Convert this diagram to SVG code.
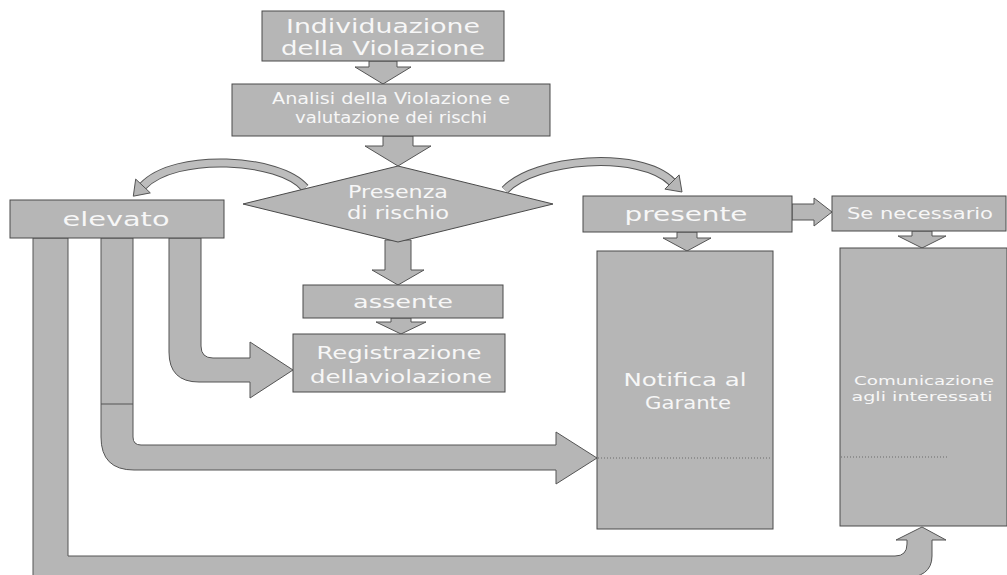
<svg xmlns="http://www.w3.org/2000/svg" width="1007" height="575" viewBox="0 0 1007 575">
<style>
.b{fill:#b6b6b6;stroke:#4a4a4a;stroke-width:1}
.a{fill:#b6b6b6;stroke:#555;stroke-width:1}
.t{fill:#f7f7f7;font-family:"DejaVu Sans",sans-serif;text-anchor:middle}
.arcO{fill:none;stroke:#555;stroke-width:9;stroke-linecap:butt}
.arcI{fill:none;stroke:#bdbdbd;stroke-width:7;stroke-linecap:butt}
.dot{stroke:#6a6a6a;stroke-width:1;stroke-dasharray:1 2}
</style>
<rect width="1007" height="575" fill="#ffffff"/>
<g id="connectors">
  <path class="a" d="M369,61 H397 V67 H411 L383,84 L355,67 H369 Z"/>
  <path class="a" d="M383,136 H413 V146 H431 L398,166 L365,146 H383 Z"/>
  <path class="a" d="M385,240 H411 V270 H424 L398,285 L372,270 H385 Z"/>
  <path class="a" d="M391,318 H411 V322 H426 L401,334 L376,322 H391 Z"/>
  <path class="arcO" d="M305,188 C280,158 175,152 143,186"/>
  <path class="arcI" d="M305,188 C280,158 175,152 143,186"/>
  <path class="a" d="M150.3,192.9 L133.3,196.2 L135.7,179.1 Z"/>
  <path class="arcO" d="M505,190 C535,158 640,150 672,182"/>
  <path class="arcI" d="M505,190 C535,158 640,150 672,182"/>
  <path class="a" d="M679.1,174.9 L682,192 L664.9,189.1 Z"/>
  <path class="a" d="M792,204 H814 V198 L832,212 L814,226 V220 H792 Z"/>
  <path class="a" d="M677,232 H697 V238 H711 L687,251 L663,238 H677 Z"/>
  <path class="a" d="M912,231 H932 V236 H946 L922,248 L898,236 H912 Z"/>
  <path class="a" d="M169,238 H201 V346 Q201,358 213,358 H250 V342 L293,370 L250,398 V382 H199 Q169,382 169,352 Z"/>
  <path class="a" d="M101,238 H133 V437 Q133,445 141,445 H556 V432 L597,458 L556,484 V470 H134 Q101,470 101,437 Z"/>
  <line x1="101" y1="404" x2="133" y2="404" stroke="#555" stroke-width="1"/>
  <path class="a" d="M33,238 H68 V556 H895 Q907,556 907,544 V540 H896 L922,527 L946,540 H932 V556 Q932,578 902,578 H33 Z"/>
</g>
<g id="n-individuazione">
  <rect class="b" x="262" y="11" width="242" height="50"/>
  <text class="t" x="383" y="33" font-size="19" textLength="194" lengthAdjust="spacingAndGlyphs">Individuazione</text>
  <text class="t" x="383" y="55" font-size="19" textLength="204" lengthAdjust="spacingAndGlyphs">della Violazione</text>
</g>
<g id="n-analisi">
  <rect class="b" x="232" y="84" width="318" height="52"/>
  <text class="t" x="391" y="104" font-size="15" textLength="238" lengthAdjust="spacingAndGlyphs">Analisi della Violazione e</text>
  <text class="t" x="391" y="123" font-size="15" textLength="192" lengthAdjust="spacingAndGlyphs">valutazione dei rischi</text>
</g>
<g id="n-presenza">
  <polygon class="b" points="243,204 398,166 553,204 398,242"/>
  <text class="t" x="398" y="198" font-size="17" textLength="100" lengthAdjust="spacingAndGlyphs">Presenza</text>
  <text class="t" x="398" y="219" font-size="17" textLength="102" lengthAdjust="spacingAndGlyphs">di rischio</text>
</g>
<g id="n-elevato">
  <rect class="b" x="10" y="200" width="214" height="38"/>
  <text class="t" x="116" y="226" font-size="20" textLength="107" lengthAdjust="spacingAndGlyphs">elevato</text>
</g>
<g id="n-presente">
  <rect class="b" x="583" y="196" width="209" height="36"/>
  <text class="t" x="686" y="221" font-size="20" textLength="123" lengthAdjust="spacingAndGlyphs">presente</text>
</g>
<g id="n-senecessario">
  <rect class="b" x="832" y="196" width="174" height="35"/>
  <text class="t" x="920" y="219" font-size="16" textLength="146" lengthAdjust="spacingAndGlyphs">Se necessario</text>
</g>
<g id="n-assente">
  <rect class="b" x="303" y="285" width="200" height="33"/>
  <text class="t" x="403" y="308" font-size="18" textLength="100" lengthAdjust="spacingAndGlyphs">assente</text>
</g>
<g id="n-registrazione">
  <rect class="b" x="293" y="334" width="212" height="58"/>
  <text class="t" x="399" y="359" font-size="17" textLength="165" lengthAdjust="spacingAndGlyphs">Registrazione</text>
  <text class="t" x="401" y="383" font-size="17" textLength="182" lengthAdjust="spacingAndGlyphs">dellaviolazione</text>
</g>
<g id="n-notifica">
  <rect class="b" x="597" y="251" width="176" height="278"/>
  <line class="dot" x1="598" y1="458" x2="772" y2="458"/>
  <text class="t" x="685" y="386" font-size="18" textLength="123" lengthAdjust="spacingAndGlyphs">Notifica al</text>
  <text class="t" x="688" y="409" font-size="18" textLength="86" lengthAdjust="spacingAndGlyphs">Garante</text>
</g>
<g id="n-comunicazione">
  <rect class="b" x="840" y="248" width="167" height="278"/>
  <line class="dot" x1="841" y1="457" x2="947" y2="457"/>
  <text class="t" x="924" y="385" font-size="13" textLength="140" lengthAdjust="spacingAndGlyphs">Comunicazione</text>
  <text class="t" x="922" y="401" font-size="13" textLength="141" lengthAdjust="spacingAndGlyphs">agli interessati</text>
</g>
</svg>
